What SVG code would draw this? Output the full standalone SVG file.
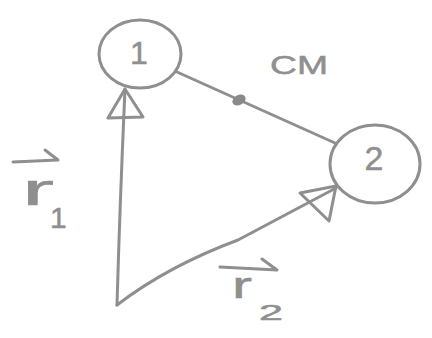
<svg xmlns="http://www.w3.org/2000/svg" width="432" height="338" viewBox="0 0 432 338">
<style>
.ink{fill:none;stroke:#8f8f8f;stroke-width:3;stroke-linecap:round;stroke-linejoin:round}
.txt{font-family:"Liberation Sans",Arial,sans-serif;fill:#8f8f8f;stroke:#8f8f8f;stroke-width:0.5}
</style>
<rect x="0" y="0" width="432" height="338" fill="#ffffff"/>
<g id="connectors">
<path class="ink" d="M177,72 L335,143"/>
<ellipse cx="239" cy="100" rx="6" ry="4" transform="rotate(-30 239 100)" fill="#8a8a8a" stroke="#8a8a8a" stroke-width="2"/>
<path class="ink" d="M117,305 Q120,200 125,89"/>
<polygon class="ink" points="108,118 143,117 125,89"/>
<path class="ink" d="M117,305 Q168,266 238,240 L336,188"/>
<polygon class="ink" points="300,193 336,186 329,221"/>
</g>
<g id="node1">
<ellipse class="ink" cx="140" cy="54" rx="41" ry="34"/>
<text class="txt" x="139" y="64" font-size="32" text-anchor="middle">1</text>
</g>
<g id="node2">
<ellipse class="ink" cx="375" cy="164" rx="45" ry="39"/>
<text class="txt" x="374" y="170" font-size="34" text-anchor="middle">2</text>
</g>
<g id="cm-label">
<text class="txt" x="270" y="74" font-size="26" textLength="58" lengthAdjust="spacingAndGlyphs">CM</text>
</g>
<g id="r1-label">
<path class="ink" d="M13,162 L58,160 M45,150 L58,160"/>
<text class="txt" x="22" y="205" font-size="44" textLength="32" lengthAdjust="spacingAndGlyphs">r</text>
<text class="txt" x="50" y="228" font-size="30">1</text>
</g>
<g id="r2-label">
<path class="ink" d="M220,267 L277,270 M262,259 L277,270"/>
<text class="txt" x="232" y="298" font-size="36" textLength="20" lengthAdjust="spacingAndGlyphs">r</text>
<text class="txt" x="259" y="320" font-size="22" textLength="24" lengthAdjust="spacingAndGlyphs">2</text>
</g>
</svg>
